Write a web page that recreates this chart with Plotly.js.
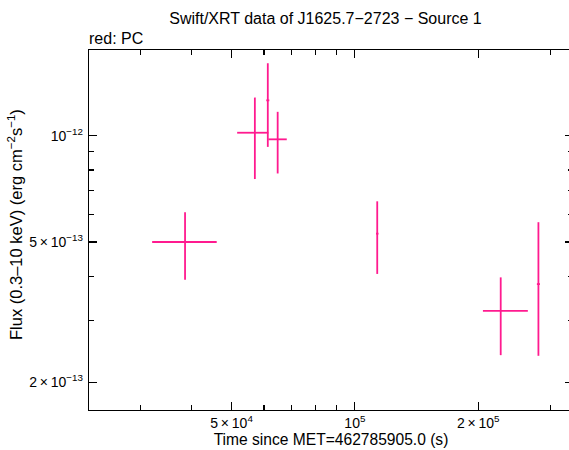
<!DOCTYPE html>
<html>
<head>
<meta charset="utf-8">
<script src="https://cdn.plot.ly/plotly-3.0.1.min.js"></script>
<style>
  html, body { margin: 0; padding: 0; background: #fff; overflow: hidden; width: 569px; height: 450px; }
  #chart { width: 573px; height: 450px; }
</style>
</head>
<body>
<div id="chart"></div>
<script>
// Swift/XRT PC-mode light curve bins (time in s since MET=462785905.0, flux in erg cm^-2 s^-1)
const time      = [38500, 57000, 61300, 64800, 113400, 227000, 280600];
const timeErrLo = [6500,  5400,  520,   3300,  800,    21600,  2400];
const timeErrHi = [7500,  4500,  520,   3400,  800,    37400,  2400];
const flux      = [5.00e-13, 1.02e-12, 1.26e-12, 9.77e-13, 5.28e-13, 3.19e-13, 3.80e-13];
const fluxErrHi = [1.07e-13, 2.63e-13, 3.45e-13, 1.92e-13, 1.24e-13, 0.78e-13, 1.89e-13];
const fluxErrLo = [1.09e-13, 2.66e-13, 3.30e-13, 1.95e-13, 1.22e-13, 0.80e-13, 1.42e-13];

const xTickVals = [5e4, 1e5, 2e5];
const xTickText = ['5\u2009×\u200910<sup>4</sup>', '10<sup>5</sup>', '2\u2009×\u200910<sup>5</sup>'];
const xMinorVals = [3e4, 4e4, 6e4, 7e4, 8e4, 9e4, 3e5];
const yTickVals = [2e-13, 5e-13, 1e-12];
const yTickText = ['2\u2009×\u200910<sup>−13</sup>', '5\u2009×\u200910<sup>−13</sup>', '10<sup>−12</sup>'];
const yMinorVals = [3e-13, 4e-13, 6e-13, 7e-13, 8e-13, 9e-13];

const pink = '#ff1a8f';
const font = 'Liberation Sans, Arial, Helvetica, sans-serif';

const trace = {
  x: time,
  y: flux,
  type: 'scatter',
  mode: 'markers',
  marker: { size: 1, color: 'rgba(0,0,0,0)' },
  error_x: { type: 'data', symmetric: false, array: timeErrHi, arrayminus: timeErrLo,
             color: pink, thickness: 1.8, width: 0 },
  error_y: { type: 'data', symmetric: false, array: fluxErrHi, arrayminus: fluxErrLo,
             color: pink, thickness: 1.8, width: 0 },
  hoverinfo: 'x+y'
};

const axisCommon = {
  type: 'log',
  showline: true,
  linecolor: '#000',
  linewidth: 1.3,
  mirror: 'ticks',
  ticks: 'inside',
  ticklen: 8,
  tickwidth: 1.1,
  tickcolor: '#000',
  showgrid: false,
  zeroline: false,
  tickmode: 'array',
  tickfont: { family: font, size: 14, color: '#000' }
};

const minorTicks = { tickmode: 'array', ticks: 'inside', ticklen: 5, tickwidth: 1.1, tickcolor: '#000', showgrid: false };

const layout = {
  width: 573,
  height: 450,
  margin: { l: 89, r: 0, t: 50, b: 40 },
  paper_bgcolor: '#fff',
  plot_bgcolor: '#fff',
  showlegend: false,
  font: { family: font, color: '#000' },
  title: {
    text: 'Swift/XRT data of J1625.7−2723 − Source 1',
    font: { family: font, size: 16, color: '#000' },
    x: 0.568, xanchor: 'center', y: 0.96, yanchor: 'middle'
  },
  xaxis: Object.assign({}, axisCommon, {
    range: [4.351, 5.5325],
    tickvals: xTickVals,
    ticktext: xTickText,
    minor: Object.assign({ tickvals: xMinorVals }, minorTicks),
    title: { text: 'Time since MET=462785905.0 (s)', font: { family: font, size: 15.6, color: '#000' }, standoff: 0 }
  }),
  yaxis: Object.assign({}, axisCommon, {
    range: [-12.777, -11.757],
    tickvals: yTickVals,
    ticktext: yTickText,
    ticklabelstandoff: 2,
    minor: Object.assign({ tickvals: yMinorVals }, minorTicks)
  }),
  annotations: [
    {
      // data-mode label above the frame
      text: 'red: PC', xref: 'paper', yref: 'paper', x: -0.004, y: 1.0, xanchor: 'left', yanchor: 'bottom',
      yshift: 1, showarrow: false, font: { family: font, size: 16, color: '#000' }
    },
    {
      // vertical flux label, placed close to the tick labels
      text: 'Flux (0.3–10 keV) (erg cm<sup>−2</sup>s<sup>−1</sup>)', textangle: -90,
      xref: 'paper', yref: 'paper', x: 0, y: 0.5, xanchor: 'center', yanchor: 'middle',
      xshift: -74, yshift: 5, showarrow: false, font: { family: font, size: 16.5, color: '#000' }
    }
  ]
};

Plotly.newPlot('chart', [trace], layout, { displayModeBar: false, staticPlot: true });
</script>
</body>
</html>
